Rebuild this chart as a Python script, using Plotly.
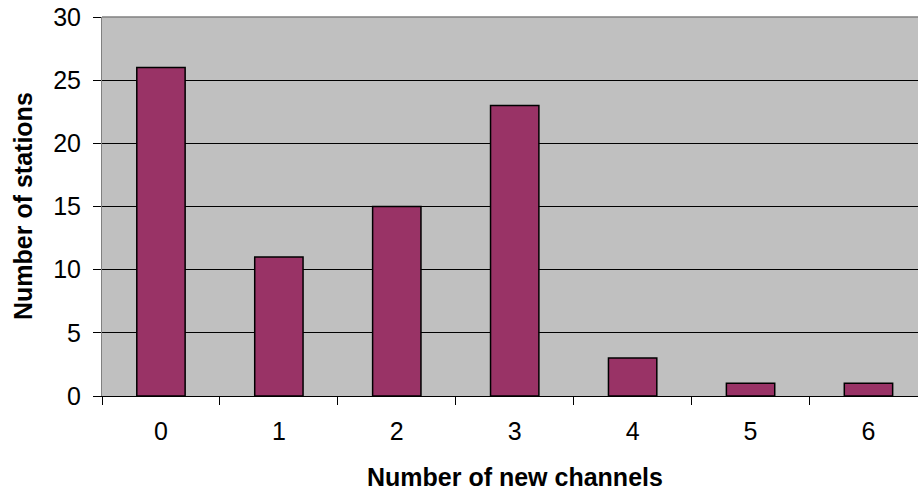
import plotly.graph_objects as go

# Stations grouped by how many new channels they received
channels = ["0", "1", "2", "3", "4", "5", "6"]
stations = [26, 11, 15, 23, 3, 1, 1]

y_ticks = [0, 5, 10, 15, 20, 25, 30]

FONT = "Liberation Sans, Arial, sans-serif"

fig = go.Figure(
    go.Bar(
        x=channels,
        y=stations,
        width=0.41,
        marker=dict(color="#993366", line=dict(color="#000000", width=1.5)),
        hoverinfo="x+y",
    )
)

fig.update_layout(
    width=918,
    height=496,
    margin=dict(l=102, r=0, t=17, b=100),
    paper_bgcolor="#FFFFFF",
    plot_bgcolor="#C0C0C0",
    font=dict(family=FONT, size=25, color="#000000"),
    showlegend=False,
    bargap=0.59,
)

fig.update_xaxes(
    type="category",
    range=[-0.5, 6.42],
    tickson="boundaries",
    ticks="outside",
    ticklen=8,
    tickcolor="#000000",
    tickwidth=1,
    showline=True,
    linecolor="#000000",
    linewidth=1,
    showgrid=False,
    zeroline=False,
    ticklabelstandoff=13,
    tickfont=dict(size=25),
)

fig.update_yaxes(
    range=[0, 30],
    tickvals=y_ticks,
    ticks="outside",
    ticklen=8,
    tickcolor="#000000",
    tickwidth=1,
    showline=True,
    linecolor="#808080",
    linewidth=1,
    showgrid=True,
    gridcolor="#000000",
    gridwidth=1,
    zeroline=False,
    ticklabelstandoff=7,
    tickfont=dict(size=25),
)

# Grey border along the top of the plot area
fig.add_shape(
    type="line", xref="paper", yref="paper",
    x0=0, x1=1, y0=1, y1=1,
    line=dict(color="#808080", width=1.5),
)

# Axis titles
fig.add_annotation(
    text="<b>Number of new channels</b>",
    xref="paper", yref="paper",
    x=(515 - 102) / (918 - 102), y=-(477 - 396) / (396 - 17),
    xanchor="center", yanchor="middle",
    showarrow=False, font=dict(size=25, family=FONT),
)
fig.add_annotation(
    text="<b>Number of stations</b>",
    xref="paper", yref="paper",
    x=-(102 - 23) / (918 - 102), y=(396 - 206) / (396 - 17),
    xanchor="center", yanchor="middle", textangle=-90,
    showarrow=False, font=dict(size=25, family=FONT),
)

fig.write_html("out.html")
